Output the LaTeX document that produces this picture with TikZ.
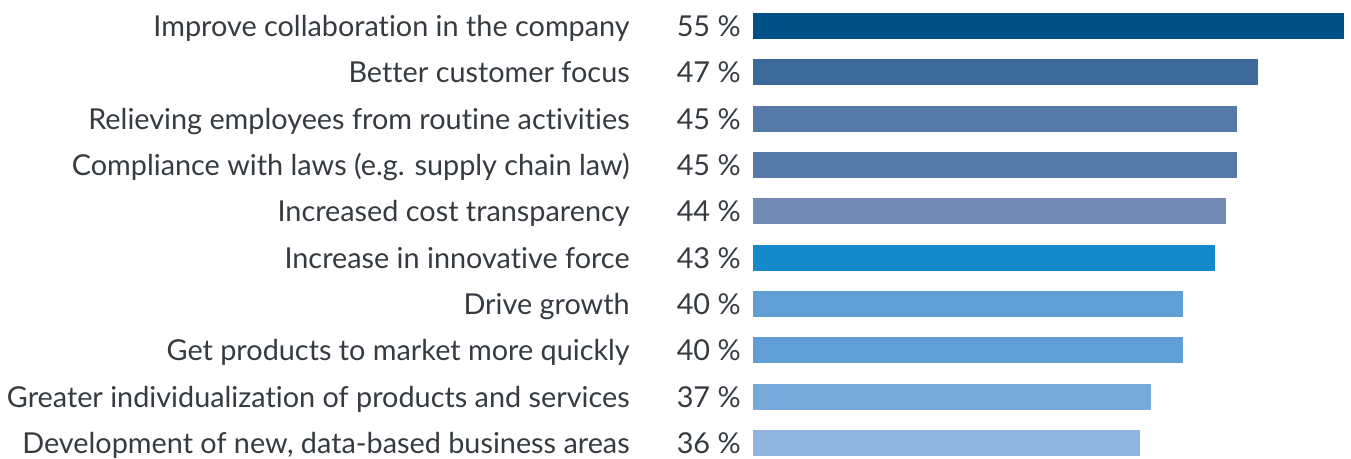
\documentclass[tikz,border=0pt]{standalone}
\usepackage{fontspec}
\setmainfont[Ligatures=CommonOff]{Lato}
\usepackage{tikz}
\usetikzlibrary{positioning}

\definecolor{txtgray}{HTML}{353B40}
\definecolor{barA}{HTML}{005088}
\definecolor{barB}{HTML}{3C6A9B}
\definecolor{barC}{HTML}{5679A7}
\definecolor{barD}{HTML}{7189B3}
\definecolor{barE}{HTML}{1689CB}
\definecolor{barF}{HTML}{619ED6}
\definecolor{barG}{HTML}{78A9DB}
\definecolor{barH}{HTML}{91B5E0}

\tikzset{
  lbl/.style={inner sep=0pt, text=txtgray, font=\fontsize{16.4}{19}\selectfont, anchor=base east},
  pct/.style={lbl},
  bar/.style={inner sep=0pt, minimum height=26*0.02cm, anchor=west}
}

\begin{document}
\begin{tikzpicture}[x=0.02cm, y=-0.02cm]
  \useasboundingbox (0,0) rectangle (1351,459);
  \foreach \val/\col/\txt [count=\i] in {
      55/barA/{Improve collaboration in the company},
      47/barB/{Better customer focus},
      45/barC/{Relieving employees from routine activities},
      45/barC/{Compliance with laws (e.g. supply chain law)},
      44/barD/{Increased cost transparency},
      43/barE/{Increase in innovative force},
      40/barF/{Drive growth},
      40/barF/{Get products to market more quickly},
      37/barG/{Greater individualization of products and services},
      36/barH/{Development of new, data-based business areas}}
  {
    \pgfmathsetmacro{\rowy}{26+(\i-1)*46.33}
    % label, value and bar of one row
    \node[lbl] (lbl\i) at (630,\rowy+10.5) {\txt};
    \node[pct] (pct\i) at (741,\rowy+10.5) {\val~\%};
    \node[bar, fill=\col, minimum width=\val*0.2149cm] (bar\i) at (753,\rowy) {};
  }
\end{tikzpicture}
\end{document}
